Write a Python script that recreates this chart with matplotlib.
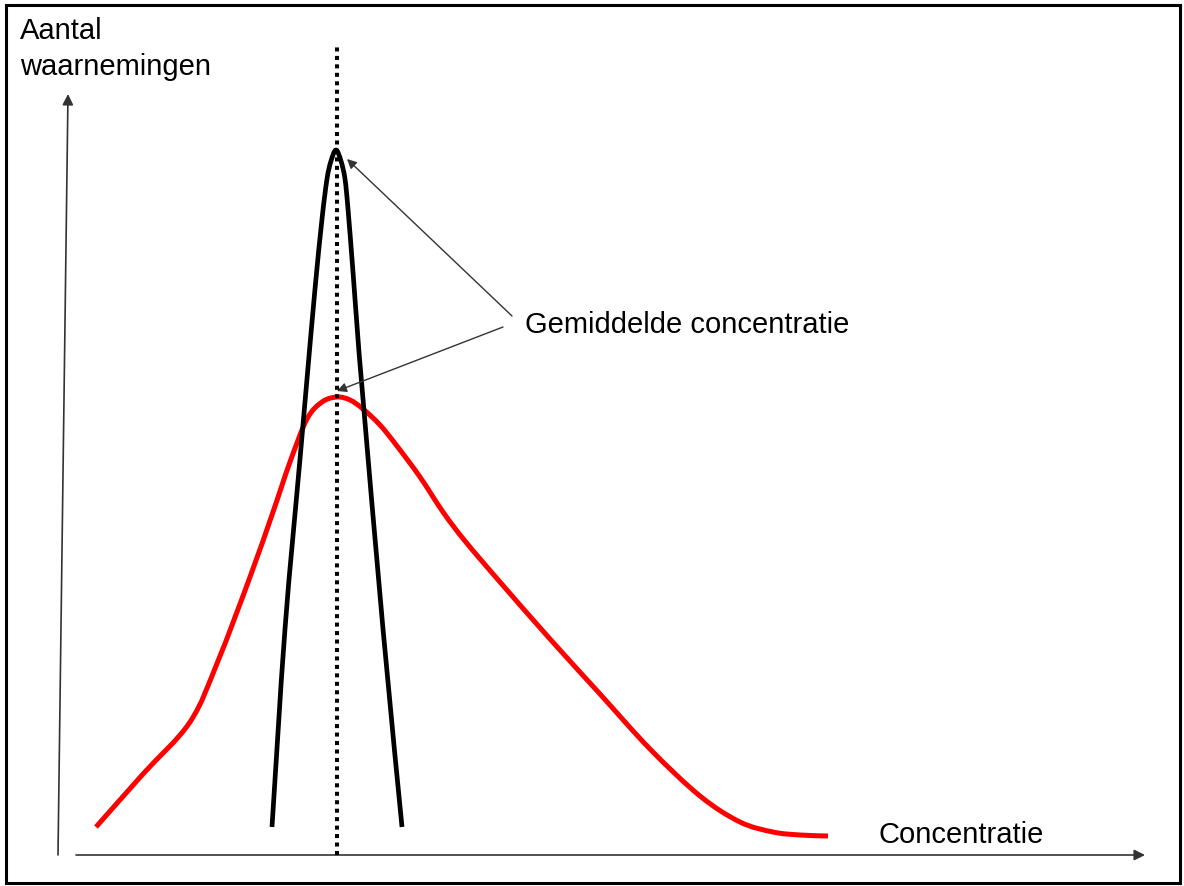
import matplotlib
matplotlib.use("Agg")
import matplotlib.pyplot as plt
from matplotlib.patches import Rectangle, PathPatch
from matplotlib.path import Path

plt.rcParams['font.family'] = ['Liberation Sans', 'DejaVu Sans']

red_x = [34, 81, 128, 156, 188, 211, 228, 245, 260, 275, 288, 301, 318, 335,
         358, 381, 403, 438, 488, 538, 588, 638, 678, 711, 738, 766]
red_y = [28, 81, 133, 194, 278, 343, 393, 436, 453, 458, 455, 446, 430, 409,
         378, 343, 314, 273, 216, 161, 106, 59, 33, 23, 20, 19]

black_x = [210, 223, 238, 245, 253, 260, 265, 269, 274, 279, 283, 286, 291, 296, 301, 321, 340]
black_y = [28, 226, 396, 476, 566, 636, 676, 694, 705, 694, 676, 646, 583, 516, 456, 226, 28]

mean_x = 275
mean_top = 808


def smooth_path(xs, ys):
    # Catmull-Rom through the read points, drawn as cubic Bezier pieces
    pts = list(zip(xs, ys))
    ext = [pts[0]] + pts + [pts[-1]]
    verts = [pts[0]]
    codes = [Path.MOVETO]
    for i in range(1, len(ext) - 2):
        p0, p1, p2, p3 = ext[i - 1], ext[i], ext[i + 1], ext[i + 2]
        c1 = (p1[0] + (p2[0] - p0[0]) / 6, p1[1] + (p2[1] - p0[1]) / 6)
        c2 = (p2[0] - (p3[0] - p1[0]) / 6, p2[1] - (p3[1] - p1[1]) / 6)
        verts += [c1, c2, p2]
        codes += [Path.CURVE4] * 3
    return Path(verts, codes)


fig = plt.figure(figsize=(11.84, 8.87), dpi=100)
ax = fig.add_axes([0, 0, 1, 1])
ax.set_xlim(-62, 1122)
ax.set_ylim(-31, 856)
ax.axis('off')

# frame round the picture
fig.patches.append(Rectangle((6 / 1184, 3 / 887), 1174 / 1184, 878 / 887,
                             transform=fig.transFigure, fill=False,
                             edgecolor='black', lw=2.2))

# axes drawn as arrows
axis_style = dict(arrowstyle='-|>', mutation_scale=16, lw=1.2, color='#333333',
                  shrinkA=0, shrinkB=0)
ax.annotate('', xy=(1083, 0), xytext=(14, 0), arrowprops=axis_style)
ax.annotate('', xy=(6, 761), xytext=(-4, 0), arrowprops=axis_style)

ax.add_patch(PathPatch(smooth_path(red_x, red_y), fill=False, edgecolor='#ff0000',
                       lw=3.6, capstyle='butt', joinstyle='round', zorder=3))
ax.add_patch(PathPatch(smooth_path(black_x, black_y), fill=False, edgecolor='black',
                       lw=3.4, capstyle='butt', joinstyle='round', zorder=3))
ax.plot([mean_x, mean_x], [0, mean_top], color='black', lw=2.9,
        linestyle=(0, (1, 1.1)), zorder=4)

# annotation
label_style = dict(arrowstyle='-|>', mutation_scale=14, lw=1.0, color='#333333',
                   shrinkA=0, shrinkB=0)
ax.annotate('', xy=(285, 696), xytext=(450, 539), arrowprops=label_style)
ax.annotate('', xy=(275, 464), xytext=(441, 528), arrowprops=label_style)
ax.text(463, 523, 'Gemiddelde concentratie', fontsize=21, va='baseline', ha='left')

ax.text(-42, 817, 'Aantal', fontsize=21, va='baseline', ha='left')
ax.text(-42, 781, 'waarnemingen', fontsize=21, va='baseline', ha='left')
ax.text(816, 13, 'Concentratie', fontsize=21, va='baseline', ha='left')

fig.savefig('out.png', dpi=100)
